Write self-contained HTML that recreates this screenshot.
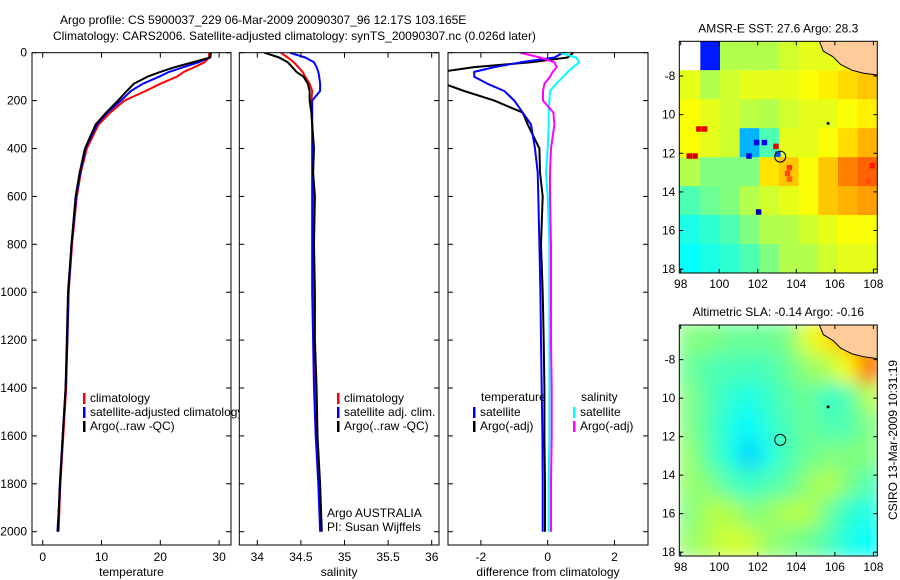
<!DOCTYPE html>
<html><head><meta charset="utf-8">
<style>
html,body{margin:0;padding:0;background:#fff;}
svg{display:block;font-family:"Liberation Sans",sans-serif;}
text{font-size:12px;fill:#000;}
</style></head>
<body>
<svg id="chart" width="900" height="580" viewBox="0 0 900 580">
<text x="60" y="24">Argo profile: CS 5900037_229 06-Mar-2009 20090307_96 12.17S 103.165E</text>
<text x="53" y="40">Climatology: CARS2006. Satellite-adjusted climatology: synTS_20090307.nc (0.026d later)</text>
<g id="g"></g>
</svg>
<script>
const depths=[0,20,40,60,80,100,130,160,200,250,300,400,500,600,800,1000,1200,1400,1600,1800,2000];
const tempClim=[28.3,28.3,27.5,25.8,24,22.8,20,17.5,13.9,11.5,9.5,7.5,6.5,5.8,5.0,4.4,4.2,4.0,3.5,3.0,2.7];
const tempSat=[28.6,28.4,26.5,24,21.5,19.8,17,15,13.3,11,9.2,7.3,6.4,5.7,4.9,4.4,4.2,3.9,3.4,3.0,2.5];
const tempArgo=[28.6,28.5,25.5,22.5,20,17.8,15.5,14.3,12.8,10.8,9.0,7.2,6.3,5.6,4.9,4.3,4.1,3.9,3.4,2.9,2.6];
const salClim=[34.27,34.35,34.42,34.47,34.52,34.55,34.6,34.63,34.62,34.62,34.63,34.64,34.64,34.64,34.64,34.64,34.65,34.66,34.68,34.71,34.73];
const salSat=[34.37,34.55,34.65,34.68,34.7,34.71,34.72,34.72,34.63,34.63,34.63,34.63,34.63,34.63,34.63,34.63,34.64,34.65,34.67,34.7,34.72];
const salArgo=[34.08,34.25,34.35,34.4,34.45,34.53,34.58,34.6,34.6,34.62,34.63,34.65,34.64,34.66,34.65,34.66,34.66,34.68,34.69,34.72,34.74];
const dTempSat=[0.46,0.2,-0.8,-1.6,-2.2,-2.2,-1.8,-1.3,-1.0,-0.75,-0.5,-0.38,-0.3,-0.28,-0.25,-0.22,-0.2,-0.18,-0.16,-0.15,-0.15];
const dTempArgo=[0.76,0.6,-0.5,-2.2,-3.2,-3.2,-3.1,-2.5,-1.6,-0.75,-0.6,-0.25,-0.23,-0.15,-0.2,-0.15,-0.12,-0.1,-0.1,-0.08,-0.08];
const dSalSat=[0.37,0.85,0.95,0.76,0.6,0.46,0.25,0.07,0.05,0.03,0.03,0.0,-0.05,0.0,0.05,0.05,0.05,0.05,0.05,0.03,0.03];
const dSalArgo=[-0.83,-0.23,0.2,0.27,0.15,0.07,-0.1,-0.14,-0.14,0.17,0.2,0.1,0.07,0.07,0.1,0.1,0.1,0.12,0.12,0.1,0.1];
const depthTicks=[0,200,400,600,800,1000,1200,1400,1600,1800,2000];
const tempTicks=[0,10,20,30];
const salTicks=[34,34.5,35,35.5,36];
const diffTicks=[-2,0,2];
const mapLonTicks=[98,100,102,104,106,108];
const mapLatTicks=[-8,-10,-12,-14,-16,-18];
const mapLatLabels=["-8","10","12","14","16","18"];
const sstGrid=[
[null,0.15,0.55,0.55,0.55,0.58,0.6,0.6,0.62,0.62],
[0.6,0.55,0.58,0.6,0.6,0.6,0.62,0.64,0.66,0.68],
[0.62,0.6,0.58,0.56,0.55,0.58,0.6,0.6,0.62,0.64],
[0.62,0.6,0.58,0.3,0.45,0.6,0.6,0.62,0.66,0.7],
[0.55,0.5,0.5,0.5,0.65,0.68,0.62,0.68,0.75,0.78],
[0.45,0.48,0.5,0.55,0.58,0.6,0.62,0.68,0.7,0.72],
[0.4,0.42,0.45,0.5,0.55,0.55,0.58,0.6,0.62,0.62],
[0.38,0.4,0.42,0.45,0.5,0.55,0.55,0.58,0.6,0.6]];
const sstSpots=[[98.8,-10.6,0.9],[99.1,-10.6,0.9],[98.3,-12.0,0.92],[98.6,-12.0,0.92],[101.8,-11.3,0.1],[102.2,-11.3,0.12],[102.8,-11.5,0.9],[101.4,-12.0,0.1],[102.9,-11.9,0.2],[101.9,-14.9,0.05],[103.5,-12.6,0.82],[107.8,-12.5,0.85],[107.6,-13.3,0.8],[103.4,-12.9,0.8],[103.5,-13.2,0.78]];
const slaGrid=[
[0.5,0.5,0.48,0.48,0.48,0.5,0.6,0.65,0.7,0.7],
[0.48,0.45,0.45,0.44,0.45,0.48,0.52,0.55,0.62,0.78],
[0.5,0.45,0.42,0.4,0.43,0.46,0.48,0.43,0.45,0.55],
[0.5,0.45,0.4,0.37,0.42,0.45,0.48,0.45,0.45,0.5],
[0.52,0.45,0.4,0.33,0.4,0.45,0.48,0.5,0.5,0.5],
[0.52,0.5,0.45,0.43,0.45,0.47,0.52,0.55,0.5,0.45],
[0.5,0.55,0.55,0.5,0.52,0.55,0.55,0.48,0.42,0.4],
[0.52,0.55,0.58,0.57,0.52,0.5,0.48,0.45,0.4,0.38]];
const coast=[[105.2,-6.2],[105.4,-6.7],[105.9,-7.0],[106.3,-7.4],[106.9,-7.7],[107.5,-7.85],[108.23,-7.95],[108.23,-6.2]];
const argoPos=[103.165,-12.17];

const NS="http://www.w3.org/2000/svg";
const G=document.getElementById('g');
function mk(tag,attrs,parent){const e=document.createElementNS(NS,tag);for(const k in attrs)e.setAttribute(k,attrs[k]);(parent||G).appendChild(e);return e;}
function txt(x,y,s,anchor,parent){const t=mk('text',{x:x,y:y,'text-anchor':anchor||'start'},parent);t.textContent=s;return t;}
const dTop=52.7,dPx=0.2395;
const yD=d=>dTop+d*dPx;
const PB=545;
const defs=mk('defs',{});

function panel(name,x0,x1,xs,xTicks,xLabel,series,fmt){
  const g=mk('g',{});
  
  
  mk('rect',{x:x0,y:dTop,width:x1-x0,height:PB-dTop,fill:'#fff'},g);
  const cp=mk('clipPath',{id:'c'+name},defs);
  mk('rect',{x:x0,y:dTop,width:x1-x0,height:PB-dTop},cp);
  const sg=mk('g',{'clip-path':'url(#c'+name+')'},g);
  series.forEach(s=>{
    const p=mk('polyline',{points:s.v.map((v,i)=>xs(v).toFixed(1)+','+yD(depths[i]).toFixed(1)).join(' '),fill:'none',stroke:s.c,'stroke-width':2,'stroke-linejoin':'round'},sg);
    
    
  });
  mk('rect',{x:x0,y:dTop,width:x1-x0,height:PB-dTop,fill:'none',stroke:'#000','stroke-width':1},g);
  depthTicks.forEach(d=>{const y=yD(d);mk('line',{x1:x0,x2:x0+5,y1:y,y2:y,stroke:'#000'},g);mk('line',{x1:x1-5,x2:x1,y1:y,y2:y,stroke:'#000'},g);});
  xTicks.forEach(v=>{const x=xs(v);mk('line',{x1:x,x2:x,y1:PB,y2:PB-5,stroke:'#000'},g);mk('line',{x1:x,x2:x,y1:dTop,y2:dTop+5,stroke:'#000'},g);
    const t=txt(x,PB+16,fmt(v),'middle',g);});
  const xl=txt((x0+x1)/2,PB+31,xLabel,'middle',g);
  
  
  return g;
}
const xT=v=>42.7+v*5.88, xS=v=>257.3+(v-34)*87.2, xDf=v=>547.7+v*33.4;
panel('temperature',32,231,xT,tempTicks,'temperature',[{v:tempClim,c:'#f00',n:'temp-climatology-line'},{v:tempSat,c:'#00f',n:'temp-satellite-line'},{v:tempArgo,c:'#000',n:'temp-argo-line'}],v=>String(v));
depthTicks.forEach(d=>{const t=txt(27,yD(d)+4,String(d),'end');});
function leg(x,y,c,s,par){mk('rect',{x:x,y:y-9,width:2.5,height:11,fill:c},par);const t=txt(x+7,y,s,'start',par);}
const l1=mk('g',{});
leg(83,402,'#f00','climatology',l1);leg(83,416,'#00f','satellite-adjusted climatology',l1);leg(83,430,'#000','Argo(..raw -QC)',l1);
panel('salinity',239.3,439,xS,salTicks,'salinity',[{v:salClim,c:'#f00',n:'sal-climatology-line'},{v:salSat,c:'#00f',n:'sal-satellite-line'},{v:salArgo,c:'#000',n:'sal-argo-line'}],v=>String(v));
const l2=mk('g',{});
leg(337,402,'#f00','climatology',l2);leg(337,416,'#00f','satellite adj. clim.',l2);leg(337,430,'#000','Argo(..raw -QC)',l2);
const a1=txt(327,517,'Argo AUSTRALIA');
const a2=txt(327,531,'PI: Susan Wijffels');
panel('difference',448,648,xDf,diffTicks,'difference from climatology',[{v:dTempArgo,c:'#000',n:'diff-temp-argo-line'},{v:dTempSat,c:'#00f',n:'diff-temp-satellite-line'},{v:dSalSat,c:'#0ff',n:'diff-sal-satellite-line'},{v:dSalArgo,c:'#f0f',n:'diff-sal-argo-line'}],v=>String(v));
const l3=mk('g',{});
txt(481,401,'temperature','start',l3);txt(581,401,'salinity','start',l3);
leg(473,416,'#00f','satellite',l3);leg(473,430,'#000','Argo(-adj)',l3);leg(573,416,'#0ff','satellite',l3);leg(573,430,'#f0f','Argo(-adj)',l3);

function jet(v){const r=Math.min(Math.max(Math.min(4*v-1.5,-4*v+4.5),0),1),g=Math.min(Math.max(Math.min(4*v-0.5,-4*v+3.5),0),1),b=Math.min(Math.max(Math.min(4*v+0.5,-4*v+2.5),0),1);return 'rgb('+Math.round(r*255)+','+Math.round(g*255)+','+Math.round(b*255)+')';}
function map(name,top,bottom,title,grid,spots,blur){
  const x0=679.3,x1=877.3;
  const lon=l=>680.7+(l-98)*19.27;
  const lat=a=>top+(-6.2-a)*((bottom-top)/12);
  const g=mk('g',{});
  const cp=mk('clipPath',{id:'m'+name},defs);mk('rect',{x:x0,y:top,width:x1-x0,height:bottom-top},cp);
  const cg=mk('g',{'clip-path':'url(#m'+name+')'},g);
  mk('rect',{x:x0,y:top,width:x1-x0,height:bottom-top,fill:'#fff'},cg);
  const hg=mk('g',blur?{filter:'url(#bl)'}:{},cg);
  grid.forEach((row,r)=>row.forEach((v,c)=>{
    if(v===null)return;
    const la=-6.2-r*1.5, lo=98+c*1.02;
    const cell=mk('rect',{x:lon(lo)-(c===0?3:0),y:lat(la)-(r===0?3:0),width:19.27*1.02+(c===0||c===9?4:0.5),height:(bottom-top)/8+(r===0||r===7?3:0.5),fill:jet(v)},hg);
    
  }));
  (spots||[]).forEach(s=>{const sp=mk('rect',{x:lon(s[0]),y:lat(s[1]),width:5.5,height:5.5,fill:jet(s[2])},hg);});
  const land=mk('polygon',{points:coast.map(p=>lon(p[0]).toFixed(1)+','+lat(p[1]).toFixed(1)).join(' ')+' '+lon(108.3)+','+(top-2),fill:'#ffcc99',stroke:'#000','stroke-width':1},cg);
  
  mk('circle',{cx:lon(105.65),cy:lat(-10.45),r:1.5,fill:'#000'},cg);
  const c=mk('circle',{cx:lon(argoPos[0]),cy:lat(argoPos[1]),r:5.5,fill:'none',stroke:'#000','stroke-width':1},cg);
  
  mk('rect',{x:x0,y:top,width:x1-x0,height:bottom-top,fill:'none',stroke:'#000'},g);
  mapLonTicks.forEach(l=>{const x=lon(l);mk('line',{x1:x,x2:x,y1:bottom,y2:bottom-4,stroke:'#000'},g);mk('line',{x1:x,x2:x,y1:top,y2:top+4,stroke:'#000'},g);const t=txt(x,bottom+15,String(l),'middle',g);});
  mapLatTicks.forEach((a,i)=>{const y=lat(a);mk('line',{x1:x0,x2:x0+4,y1:y,y2:y,stroke:'#000'},g);mk('line',{x1:x1-4,x2:x1,y1:y,y2:y,stroke:'#000'},g);const t=txt(x0-4,y+4,mapLatLabels[i],'end',g);});
  const tt=txt((x0+x1)/2,top-9,title,'middle',g);
}
const f=mk('filter',{id:'bl',x:'-5%',y:'-5%',width:'110%',height:'110%'},defs);mk('feGaussianBlur',{stdDeviation:9},f);
map('sst',41.3,273,'AMSR-E SST: 27.6 Argo: 28.3',sstGrid,sstSpots,false);
map('sla',325,556,'Altimetric SLA: -0.14 Argo: -0.16',slaGrid,[],true);
const cs=txt(0,0,'CSIRO 13-Mar-2009 10:31:19','middle');
cs.setAttribute('transform','translate(897,440) rotate(-90)');


</script>
</body></html>
